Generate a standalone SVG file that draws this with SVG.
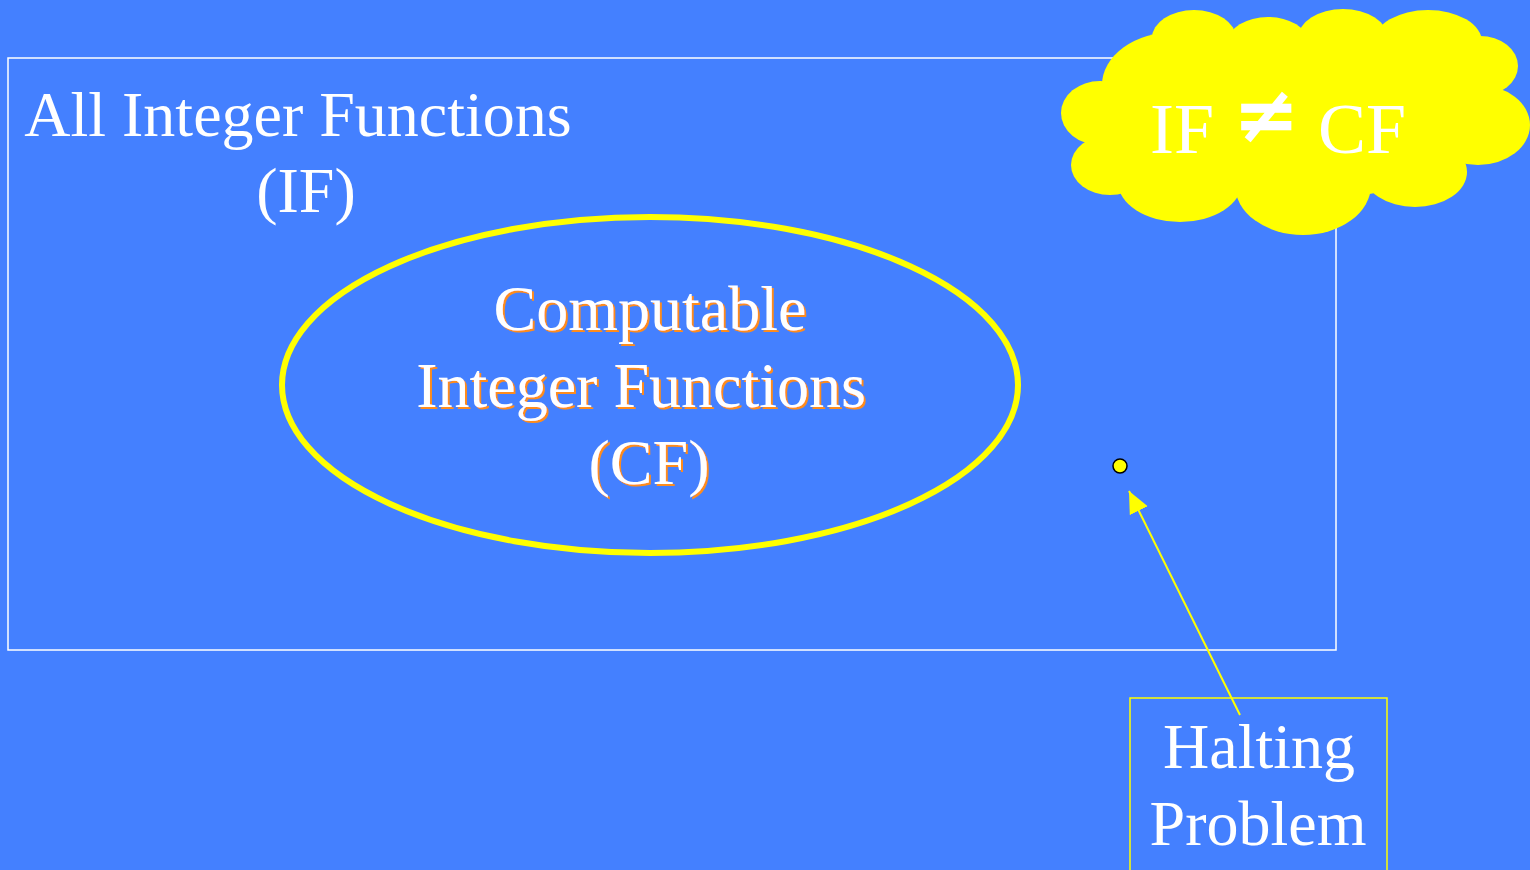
<svg xmlns="http://www.w3.org/2000/svg" width="1530" height="870" viewBox="0 0 1530 870">
<style>
.t{font-family:"Liberation Serif","Times New Roman",serif;font-size:64px;fill:#fff}
.mid{text-anchor:middle}
</style>
<defs>
<filter id="sh" x="-5%" y="-20%" width="110%" height="140%">
<feDropShadow dx="2" dy="2" stdDeviation="0" flood-color="#FF8C1A" flood-opacity="1"/>
</filter>
<marker id="ah" markerUnits="userSpaceOnUse" markerWidth="24" markerHeight="22" refX="22" refY="10" orient="auto">
<path d="M0,0 L22,10 L0,20 Z" fill="#FFFF00"/>
</marker>
</defs>
<rect x="0" y="0" width="1530" height="870" fill="#4480FF"/>
<g id="all-functions">
<rect x="8" y="58" width="1328" height="592" fill="none" stroke="#fff" stroke-width="1.5"/>
<text class="t mid" x="298" y="136">All Integer Functions</text>
<text class="t mid" x="306" y="212">(IF)</text>
</g>
<g id="computable">
<ellipse cx="650" cy="385" rx="368" ry="168" fill="none" stroke="#FFFF00" stroke-width="6"/>
<g filter="url(#sh)">
<text class="t mid" x="650" y="330">Computable</text>
<text class="t mid" x="641" y="407">Integer Functions</text>
<text class="t mid" x="649" y="484">(CF)</text>
</g>
</g>
<g id="cloud">
<g fill="#FFFF00">
<ellipse cx="1295" cy="120" rx="195" ry="80"/>
<ellipse cx="1430" cy="80" rx="55" ry="35"/>
<ellipse cx="1194" cy="38" rx="42" ry="28"/>
<ellipse cx="1268" cy="42" rx="40" ry="25"/>
<ellipse cx="1343" cy="38" rx="45" ry="29"/>
<ellipse cx="1428" cy="42" rx="54" ry="32"/>
<ellipse cx="1480" cy="66" rx="38" ry="30"/>
<ellipse cx="1478" cy="125" rx="52" ry="40"/>
<ellipse cx="1415" cy="172" rx="52" ry="35"/>
<ellipse cx="1303" cy="185" rx="68" ry="50"/>
<ellipse cx="1180" cy="182" rx="62" ry="40"/>
<ellipse cx="1110" cy="165" rx="39" ry="30"/>
<ellipse cx="1100" cy="113" rx="39" ry="32"/>
<ellipse cx="1175" cy="85" rx="73" ry="53"/>
</g>
<text class="t" y="153" style="font-size:72px"><tspan x="1150">IF</tspan><tspan x="1266" y="142" style="font-family:'DejaVu Sans',sans-serif;font-weight:bold;font-size:80px;text-anchor:middle">≠</tspan><tspan x="1318" y="153">CF</tspan></text>
</g>
<g id="halting-point">
<circle cx="1120" cy="466" r="7" fill="#FFFF00" stroke="#000" stroke-width="1.5"/>
</g>
<g id="halting">
<rect x="1130" y="698" width="257" height="200" fill="none" stroke="#FFFF00" stroke-width="1.5"/>
<text class="t mid" x="1259" y="768">Halting</text>
<text class="t mid" x="1258" y="845">Problem</text>
</g>
<g id="connectors">
<line x1="1240" y1="715" x2="1129" y2="491" stroke="#FFFF00" stroke-width="2" marker-end="url(#ah)"/>
</g>
</svg>
